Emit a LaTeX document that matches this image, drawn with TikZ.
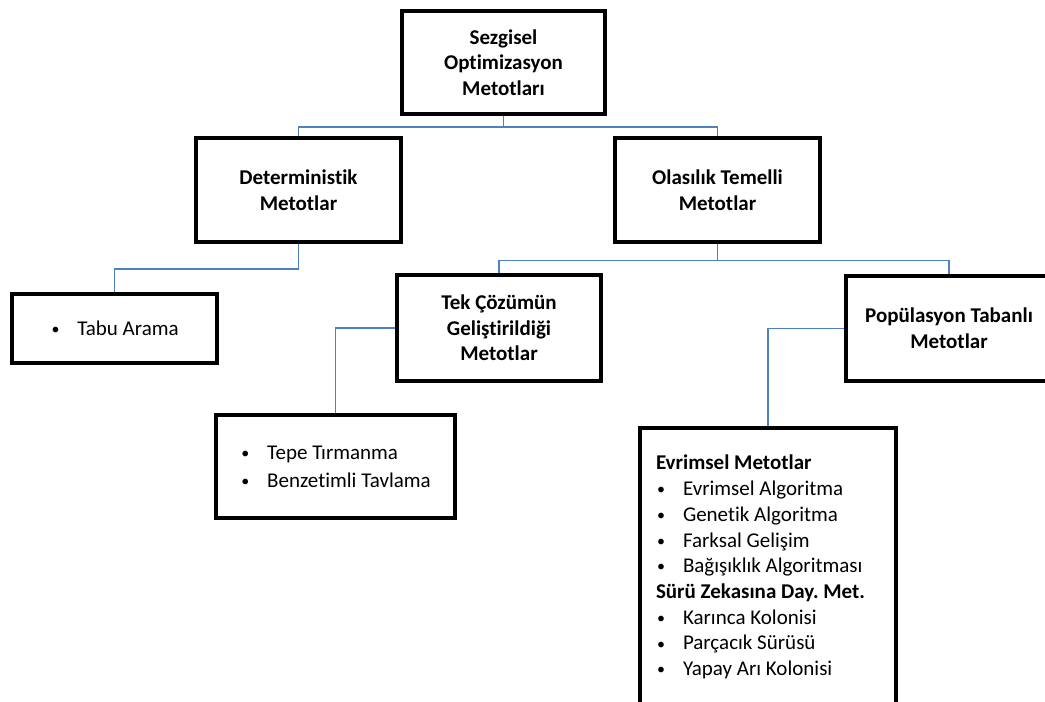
\documentclass[tikz,border=0pt]{standalone}
\usepackage{fontspec}
\setmainfont{Carlito}[Ligatures=NoCommon]
\usepackage{tikz}
\definecolor{bagmavi}{RGB}{79,129,189}
\newcommand{\yazi}{\fontsize{10.5}{12.85}\selectfont\frenchspacing}
\newcommand{\madde}[1]{\makebox[13.5pt][l]{\hspace{0.6pt}\raisebox{0.4pt}{\fontsize{8}{8}\selectfont\textbullet}}#1}

\begin{document}
\begin{tikzpicture}[x=0.5pt,y=-0.5pt,
  kutu/.style={draw, line width=2pt, align=center, font=\yazi\bfseries, inner sep=0pt},
  liste/.style={draw, line width=2pt, align=left, font=\yazi, inner sep=0pt},
  baglanti/.style={draw=bagmavi, line width=0.9pt}]
  \useasboundingbox (0,0) rectangle (1045,702);
  \clip (0,0) rectangle (1045,702);
  \node[kutu, minimum width=101.5pt, minimum height=51.5pt] (sezgisel) at (503.5,62.5) {Sezgisel\\Optimizasyon\\Metotları};
  \node[kutu, minimum width=102.5pt, minimum height=52pt] (determ) at (298.5,190) {Deterministik\\Metotlar};
  \node[kutu, minimum width=102.5pt, minimum height=52pt] (olasilik) at (717.5,190) {Olasılık Temelli\\Metotlar};
  \node[liste, minimum width=102.5pt, minimum height=34.5pt] (tabu) at (114.5,328.5) {\madde{Tabu Arama}};
  \node[kutu, minimum width=102pt, minimum height=53pt] (tekcozum) at (499,328) {Tek Çözümün\\Geliştirildiği\\Metotlar};
  \node[kutu, minimum width=103pt, minimum height=52.5pt] (populasyon) at (949,328.5) {Popülasyon Tabanlı\\Metotlar};
  \node[liste, minimum width=119.5pt, minimum height=51.5pt] (tepe) at (335.5,466.5) {\madde{Tepe Tırmanma}\\[1pt]\madde{Benzetimli Tavlama}};
  \node[liste, anchor=north west, inner xsep=8pt, inner ysep=12pt] (evrimsel) at (638,426) {\parbox[t][170pt][t]{112pt}{\raggedright
    \strut\textbf{Evrimsel Metotlar}\\
    \madde{Evrimsel Algoritma}\\
    \madde{Genetik Algoritma}\\
    \madde{Farksal Gelişim}\\
    \madde{Bağışıklık Algoritması}\\
    \textbf{Sürü Zekasına Day. Met.}\\
    \madde{Karınca Kolonisi}\\
    \madde{Parçacık Sürüsü}\\
    \madde{Yapay Arı Kolonisi}}};
  \draw[baglanti] (sezgisel.south) -- ++(0,11) -| (determ.north);
  \draw[baglanti] (sezgisel.south) -- ++(0,11) -| (olasilik.north);
  \draw[baglanti] (determ.south) -- ++(0,25) -| (tabu.north);
  \draw[baglanti] (olasilik.south) -- ++(0,16.5) -| (tekcozum.north);
  \draw[baglanti] (olasilik.south) -- ++(0,16.5) -| (populasyon.north);
  \draw[baglanti] (tekcozum.west) -| (tepe.north);
  \draw[baglanti] (populasyon.west) -| (evrimsel.north);
\end{tikzpicture}
\end{document}
